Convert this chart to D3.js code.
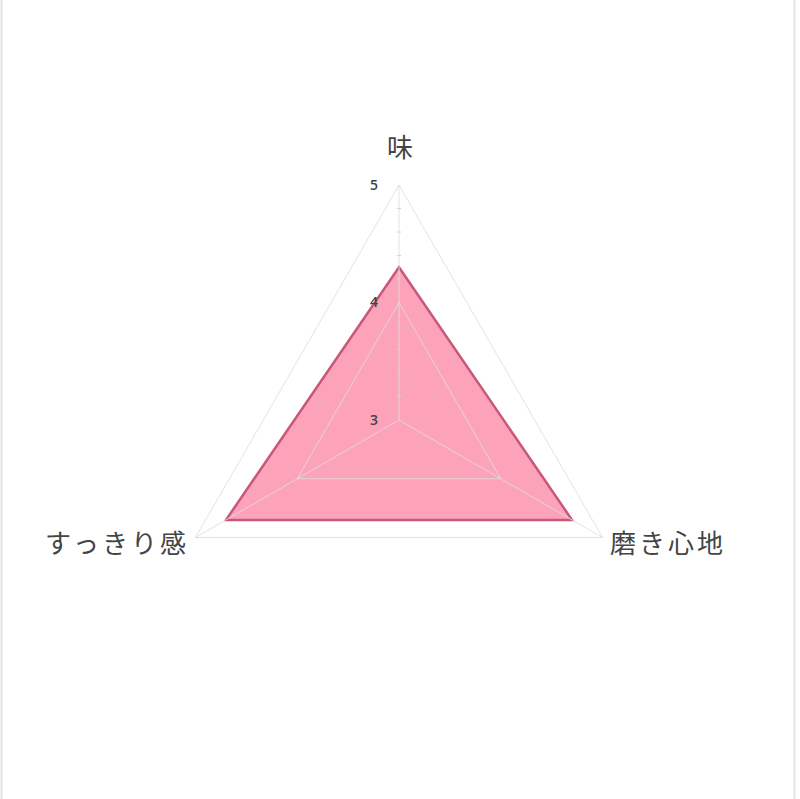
<!DOCTYPE html>
<html>
<head>
<meta charset="utf-8">
<script src="https://cdn.jsdelivr.net/npm/d3@7"></script>
<style>
  body { margin: 0; background: #fff; }
  svg { display: block; }
</style>
</head>
<body>
<div id="chart"></div>
<script>
var categories = ["味", "磨き心地", "すっきり感"];
var values = [4.3, 4.7, 4.7];
var tickLabels = [3, 4, 5];
var minorTicks = [3.2, 3.4, 3.6, 3.8, 4.2, 4.4, 4.6, 4.8];

var width = 800;
var height = 799;
var cx = 399;
var cy = 420;
var radius = 235;

var svg = d3.select("#chart").append("svg")
    .attr("width", width)
    .attr("height", height);

// side frame lines
svg.append("line").attr("x1", 1.5).attr("x2", 1.5).attr("y1", 0).attr("y2", height)
    .attr("stroke", "#e3e3e3").attr("stroke-width", 2);
svg.append("line").attr("x1", 794.5).attr("x2", 794.5).attr("y1", 0).attr("y2", height)
    .attr("stroke", "#e3e3e3").attr("stroke-width", 2);

var r = d3.scaleLinear().domain([3, 5]).range([0, radius]);
var angle = d3.scaleLinear().domain([0, categories.length]).range([0, 2 * Math.PI]);

function pt(i, v) {
    var a = angle(i);
    return [cx + r(v) * Math.sin(a), cy - r(v) * Math.cos(a)];
}

var g = svg.append("g");

// data polygon (grid is drawn over it)
var line = d3.line().curve(d3.curveLinearClosed);
g.append("path")
    .datum(values.map(function(v, i) { return pt(i, v); }))
    .attr("d", line)
    .attr("fill", "#fca3b9")
    .attr("stroke", "#c9577c")
    .attr("stroke-width", 2.5)
    .attr("stroke-linejoin", "miter");

// grid triangles
g.selectAll(".grid")
    .data([4, 5])
    .enter().append("polygon")
    .attr("class", "grid")
    .attr("points", function(t) {
        return categories.map(function(c, i) { return pt(i, t).join(","); }).join(" ");
    })
    .attr("fill", "none")
    .attr("stroke", "#dedede")
    .attr("stroke-opacity", 0.85)
    .attr("stroke-width", 1);

// spokes
g.selectAll(".spoke")
    .data(categories)
    .enter().append("line")
    .attr("class", "spoke")
    .attr("x1", cx).attr("y1", cy)
    .attr("x2", function(d, i) { return pt(i, 5)[0]; })
    .attr("y2", function(d, i) { return pt(i, 5)[1]; })
    .attr("stroke", "#dedede")
    .attr("stroke-opacity", 0.85)
    .attr("stroke-width", 1);

// minor ticks on top axis
g.selectAll(".mtick")
    .data(minorTicks)
    .enter().append("line")
    .attr("x1", cx - 2).attr("x2", cx + 2)
    .attr("y1", function(d) { return pt(0, d)[1]; })
    .attr("y2", function(d) { return pt(0, d)[1]; })
    .attr("stroke", "#d4d4d4");

// tick labels
g.selectAll(".tlabel")
    .data(tickLabels)
    .enter().append("text")
    .attr("x", cx - 25)
    .attr("y", function(d) { return pt(0, d)[1]; })
    .attr("dy", "0.35em")
    .attr("text-anchor", "middle")
    .attr("font-family", "'Open Sans', 'DejaVu Sans', sans-serif")
    .attr("font-size", 14)
    .attr("font-weight", 600)
    .attr("fill", "#444")
    .text(function(d) { return d; });

// category labels
var labelPos = [
    {x: 400, y: 148, anchor: "middle", dx: 0},
    {x: 610, y: 544, anchor: "start", dx: 0},
    {x: 189, y: 544, anchor: "end", dx: 0}
];
g.selectAll(".clabel")
    .data(categories)
    .enter().append("text")
    .attr("x", function(d, i) { return labelPos[i].x; })
    .attr("y", function(d, i) { return labelPos[i].y; })
    .attr("dy", "0.35em")
    .attr("text-anchor", function(d, i) { return labelPos[i].anchor; })
    .attr("font-family", "'Noto Sans CJK JP', sans-serif")
    .attr("font-size", 26)
    .attr("letter-spacing", function(d, i) { return i === 0 ? 0 : 3; })
    .attr("fill", "#444")
    .text(function(d) { return d; });
</script>
</body>
</html>
